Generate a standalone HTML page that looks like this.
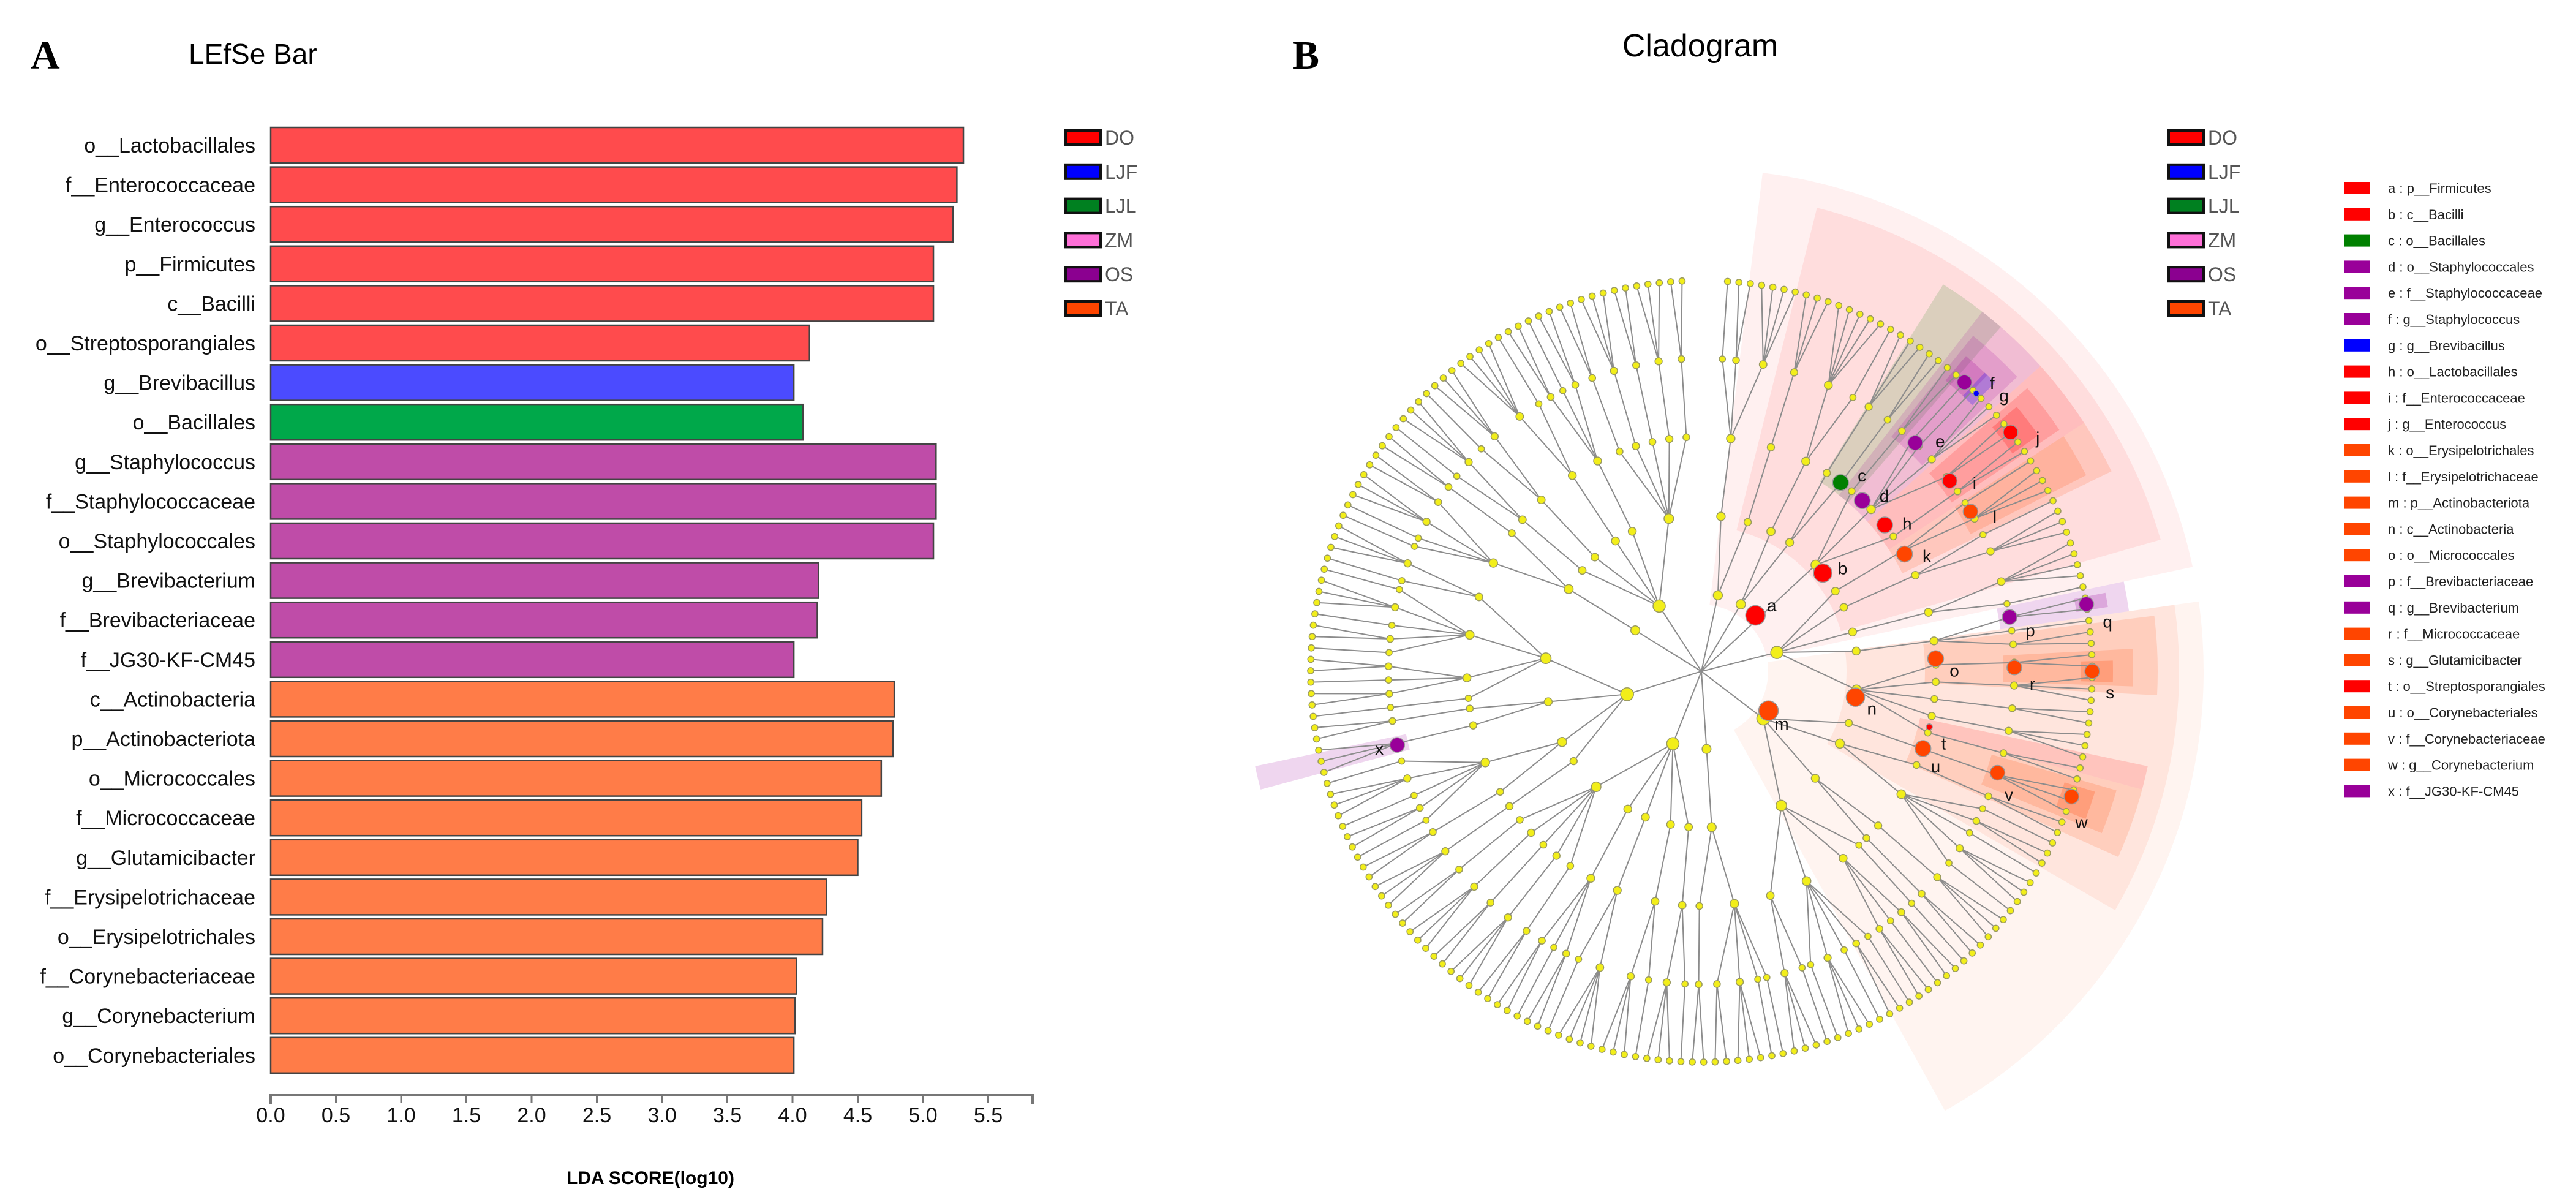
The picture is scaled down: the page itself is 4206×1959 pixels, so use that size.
<!DOCTYPE html>
<html><head><meta charset="utf-8"><style>
html,body{margin:0;padding:0;background:#fff;}
svg{display:block;font-family:"Liberation Sans",sans-serif;}
</style></head><body>
<svg id="fig" width="4206" height="1959" viewBox="0 0 4206 1959" xmlns="http://www.w3.org/2000/svg">
<rect width="4206" height="1959" fill="#fff"/>
<text x="50" y="112" font-family="Liberation Serif,serif" font-weight="bold" font-size="66">A</text>
<text x="308" y="104" font-size="46">LEfSe Bar</text>
<text x="2110" y="112" font-family="Liberation Serif,serif" font-weight="bold" font-size="66">B</text>
<text x="2776" y="92" font-size="52" text-anchor="middle">Cladogram</text>
<g id="bars"></g>
<g id="clado"></g>
<g id="legends"></g>
</svg>
<script>
const NS="http://www.w3.org/2000/svg";
// ---- bar chart data ----
const taxa=["o__Lactobacillales","f__Enterococcaceae","g__Enterococcus","p__Firmicutes","c__Bacilli","o__Streptosporangiales","g__Brevibacillus","o__Bacillales","g__Staphylococcus","f__Staphylococcaceae","o__Staphylococcales","g__Brevibacterium","f__Brevibacteriaceae","f__JG30-KF-CM45","c__Actinobacteria","p__Actinobacteriota","o__Micrococcales","f__Micrococcaceae","g__Glutamicibacter","f__Erysipelotrichaceae","o__Erysipelotrichales","f__Corynebacteriaceae","g__Corynebacterium","o__Corynebacteriales"];
const ldaValues=[5.31,5.26,5.23,5.08,5.08,4.13,4.01,4.08,5.10,5.10,5.08,4.20,4.19,4.01,4.78,4.77,4.68,4.53,4.50,4.26,4.23,4.03,4.02,4.01];
const groups=["DO","DO","DO","DO","DO","DO","LJF","LJL","OS","OS","OS","OS","OS","OS","TA","TA","TA","TA","TA","TA","TA","TA","TA","TA"];
const tickValues=[0,0.5,1,1.5,2,2.5,3,3.5,4,4.5,5,5.5];
const groupNames=["DO","LJF","LJL","ZM","OS","TA"];
const barColors={DO:"#ff4b4d",LJF:"#4b4bff",LJL:"#00a84a",ZM:"#ff80e0",OS:"#bf4ca8",TA:"#ff7c48"};
const legColors={DO:"#ff0000",LJF:"#0000ff",LJL:"#008020",ZM:"#ff70d8",OS:"#8b0090",TA:"#ff4500"};

function el(tag,attrs,parent){const e=document.createElementNS(NS,tag);for(const k in attrs)e.setAttribute(k,attrs[k]);parent.appendChild(e);return e;}
const X0=442,XU=213,Y0=208,PITCH=64.6,BH=58,AXY=1788;
const xs=v=>X0+v*XU;
const yb=i=>Y0+i*PITCH;
const gB=document.getElementById('bars');
taxa.forEach((t,i)=>{
  const r=el('rect',{x:xs(0),y:yb(i),width:xs(ldaValues[i])-xs(0),height:BH,fill:barColors[groups[i]],stroke:"#444","stroke-width":2.5},gB);
  
  
  const tx=el('text',{x:417,y:yb(i)+BH/2+12,"font-size":34,"text-anchor":"end",fill:"#111"},gB);
  tx.textContent=t;
  
  
});
const ax=el('path',{d:`M${xs(0)},${AXY+14}V${AXY}H1686V${AXY+14}`,fill:"none",stroke:"#777","stroke-width":4},gB);


tickValues.forEach(v=>{
  const tk=el('line',{x1:xs(v),x2:xs(v),y1:AXY,y2:AXY+13,stroke:"#777","stroke-width":3},gB);
  
  
  const tl=el('text',{x:xs(v),y:1832,"font-size":34,"text-anchor":"middle",fill:"#111"},gB);
  tl.textContent=v.toFixed(1);
  
  
});
const at=el('text',{x:1062,y:1933,"font-size":30,"font-weight":"bold","text-anchor":"middle"},gB);
at.textContent="LDA SCORE(log10)";



// ---- legends ----
const gL=document.getElementById('legends');
function groupLegend(x,name){
  groupNames.forEach((g,i)=>{
    const y=213+i*55.8;
    const r=el('rect',{x:x,y:y,width:57,height:23,fill:legColors[g],stroke:"#111","stroke-width":4},gL);
    
    
    const t=el('text',{x:x+64,y:y+23,"font-size":32,fill:"#555"},gL);
    t.textContent=g;
    
    
  });
}
groupLegend(1740,'bar-legend');
groupLegend(3541,'clado-legend');

// ---- cladogram data ----
const bmLetters=["a","b","c","d","e","f","g","h","i","j","k","l","m","n","o","p","q","r","s","t","u","v","w","x"];
const bmNames=["p__Firmicutes","c__Bacilli","o__Bacillales","o__Staphylococcales","f__Staphylococcaceae","g__Staphylococcus","g__Brevibacillus","o__Lactobacillales","f__Enterococcaceae","g__Enterococcus","o__Erysipelotrichales","f__Erysipelotrichaceae","p__Actinobacteriota","c__Actinobacteria","o__Micrococcales","f__Brevibacteriaceae","g__Brevibacterium","f__Micrococcaceae","g__Glutamicibacter","o__Streptosporangiales","o__Corynebacteriales","f__Corynebacteriaceae","g__Corynebacterium","f__JG30-KF-CM45"];
const bmGroup=["DO","DO","LJL","OS","OS","OS","LJF","DO","DO","DO","TA","TA","TA","TA","TA","OS","OS","TA","TA","DO","TA","TA","TA","OS"];
const bmAngle=[-46,-39,-53.6,-46.7,-46.9,-47.7,-45.3,-38.6,-37.5,-37.7,-30,-30.7,30.4,9.5,-3.1,-10,-9.9,-0.7,0,13.7,19.2,18.9,18.7,166.4];
const bmLevel=[1,2,3,3,4,5,5,3,4,5,3,4,1,2,3,4,5,4,5,3,3,4,5,4];
const spanStart=[-83,-76,-58,-52,-51,-50,-46.5,-42,-41,-40,-33,-33,-8,-8,-7,-12,-11,-3,-1.5,12,15,16,17,165];
const spanEnd=[-12,-16,-49,-42,-43,-46,-44.5,-33,-34,-35,-26,-27,61,30,3,-8,-9,2,1.5,15,24,22,21,168];
const ringR=[0,127,255,383,511,638];
const branching=[2,1,3,1,2,4,1,1,3,2,1,2,5,1,2,1,3,1];
const phylumCount=10;
const legendPalette={DO:"#ff0000",LJF:"#0000ff",LJL:"#008000",ZM:"#ff70d8",OS:"#990099",TA:"#ff4500"};

const CX=2778,CY=1096;
const gC=document.getElementById('clado');
const rad=d=>d*Math.PI/180;
const P=(r,a)=>[CX+r*Math.cos(rad(a)),CY+r*Math.sin(rad(a))];
const outerByLevel=[0,820,780,745,705,672];
bmLetters.forEach((l,i)=>{
  let r0=ringR[bmLevel[i]]-18, r1=outerByLevel[bmLevel[i]];
  if(l==='x') r1=745;
  const a0=spanStart[i],a1=spanEnd[i];
  const [x0,y0]=P(r0,a0),[x1,y1]=P(r1,a0),[x2,y2]=P(r1,a1),[x3,y3]=P(r0,a1);
  const lg=(a1-a0)>180?1:0;
  const op=[0,0.06,0.08,0.14,0.16,0.22][bmLevel[i]];
  const w=el('path',{d:`M${x0},${y0}L${x1},${y1}A${r1},${r1} 0 ${lg} 1 ${x2},${y2}L${x3},${y3}A${r0},${r0} 0 ${lg} 0 ${x0},${y0}Z`,fill:legendPalette[bmGroup[i]],"fill-opacity":op},gC);
  
  
});
let bi=0;
function build(level){
  const node={level,children:[]};
  if(level<5){const n=branching[bi++%branching.length];for(let k=0;k<n;k++)node.children.push(build(level+1));}
  return node;
}
const root={level:0,children:[]};
for(let p=0;p<phylumCount;p++)root.children.push(build(1));
const leaves=[];
(function collect(n){if(!n.children.length)leaves.push(n);else n.children.forEach(collect);})(root);
const startA=-87,spanA=355;
leaves.forEach((lf,k)=>{lf.angle=startA+spanA*(k+0.5)/leaves.length;lf.count=1;});
(function ang(n){if(n.children.length){n.children.forEach(ang);n.angle=n.children.reduce((s,c)=>s+c.angle,0)/n.children.length;n.count=n.children.reduce((s,c)=>s+c.count,0);}})(root);
const gLines=el('g',{stroke:"#8c8c8c","stroke-width":2,fill:"none"},gC);


const gNodes=el('g',{fill:"#f2ee1a",stroke:"#9a9a60","stroke-width":1.5},gC);


(function draw(n){
  const [px,py]=P(ringR[n.level],n.angle);
  n.children.forEach(c=>{
    const [qx,qy]=P(ringR[c.level],c.angle);
    el('line',{x1:px,y1:py,x2:qx,y2:qy},gLines);
    draw(c);
  });
  if(n.level>0){
    const cr=4+Math.min(9,Math.sqrt(n.count)*1.1);
    el('circle',{cx:px,cy:py,r:cr},gNodes);
  }
})(root);
bmLetters.forEach((l,i)=>{
  const [x,y]=P(ringR[bmLevel[i]],bmAngle[i]);
  const small=(l==='g'||l==='t');
  const c=el('circle',{cx:x,cy:y,r:small?5:[0,16,15,13,12,12][bmLevel[i]],fill:legendPalette[bmGroup[i]],stroke:"#999","stroke-width":1.5},gC);
  
  
  const [tx,ty]=P(ringR[bmLevel[i]]+30,bmAngle[i]+ (l==='x'?0:3));
  const t=el('text',{x:tx,y:ty+9,"font-size":28,"text-anchor":"middle",fill:"#111"},gC);
  t.textContent=l;
  
  
});
bmLetters.forEach((l,i)=>{
  const y=297+i*42.8;
  const r=el('rect',{x:3828,y:y,width:42,height:20,fill:legendPalette[bmGroup[i]]},gL);
  
  
  const t=el('text',{x:3899,y:y+18,"font-size":22,fill:"#222"},gL);
  t.textContent=l+" : "+bmNames[i];
  
  
});
</script>
</body></html>
